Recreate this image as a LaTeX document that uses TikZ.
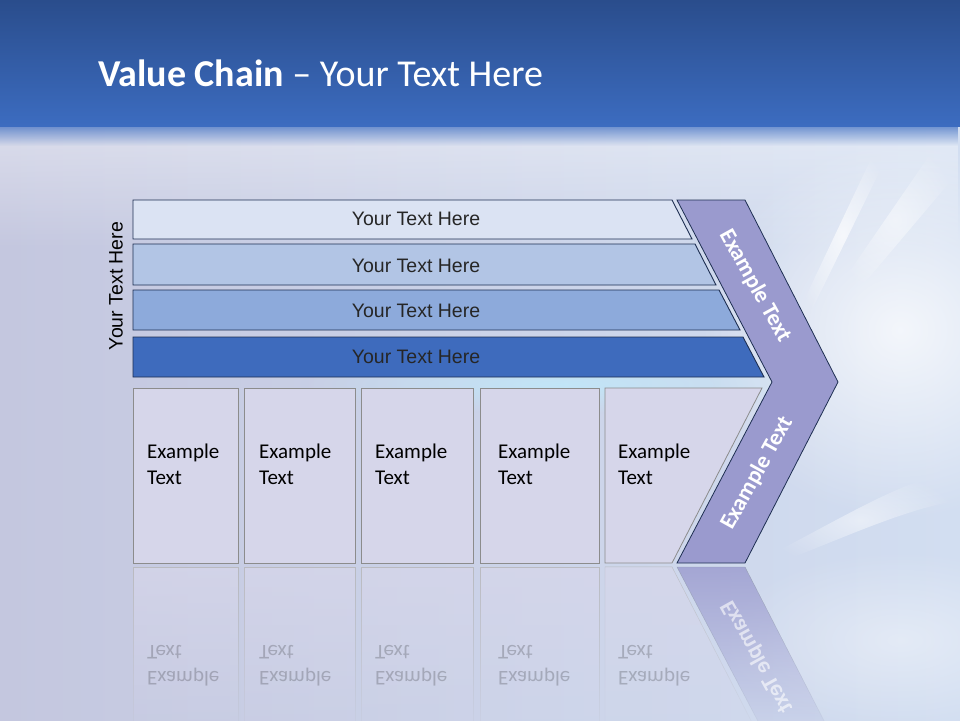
\documentclass[tikz,border=0pt]{standalone}
\usepackage{fontspec}
\setmainfont{Carlito}
\newfontfamily\barfont{Liberation Sans}
\usetikzlibrary{fadings}

\definecolor{bandtop}{HTML}{2A4D8C}
\definecolor{bandbot}{HTML}{3C6CC0}
\definecolor{bgleft}{HTML}{C4C7DF}
\definecolor{bgright}{HTML}{D2DEF1}
\definecolor{barA}{HTML}{DBE3F3}
\definecolor{barB}{HTML}{B2C5E5}
\definecolor{barC}{HTML}{8DAADB}
\definecolor{barD}{HTML}{3E6BBD}
\definecolor{chev}{HTML}{9A9ACE}
\definecolor{cellfill}{HTML}{D6D6EA}
\definecolor{edge}{HTML}{1E2F52}

\tikzfading[name=glow, inner color=transparent!0, outer color=transparent!100]

\tikzset{
  barshape/.style={draw=edge, line width=0.9pt},
  bartext/.style={font=\barfont\fontsize{19.5}{22}\selectfont, text=black!85},
  cell/.style={draw=black!45, fill=cellfill, line width=0.8pt},
  celltext/.style={font=\fontsize{21}{26}\selectfont, align=left, anchor=north west, inner sep=0pt},
  armtext/.style={font=\bfseries\fontsize{23}{26}\selectfont, text=white},
  ray/.style={white, line cap=round, path fading=glow},
}

\begin{document}
\begin{tikzpicture}[x=1pt,y=-1pt]
\useasboundingbox (0,0) rectangle (960,720);

% background
\shade [left color=bgleft, right color=bgright] (0,0) rectangle (960,720);
\fill [white, opacity=0.4, path fading=south] (0,126) rectangle (960,250);
\fill [white, opacity=0.75, path fading=glow] (900,330) ellipse (200 and 190);
\fill [white, opacity=0.4, path fading=glow] (900,640) ellipse (180 and 90);
\fill [cyan!25, opacity=0.8, path fading=glow] (560,384) ellipse (260 and 30);
\fill [ray, opacity=0.7] (790,330) -- (880,140) -- (895,140) -- (802,330) -- cycle;
\fill [ray, opacity=0.5] (830,300) -- (940,140) -- (960,140) -- (960,170) -- (850,300) -- cycle;
\fill [ray, opacity=0.5] (760,560) .. controls (840,520) and (900,480) .. (960,470) -- (960,500) .. controls (900,510) and (840,540) .. (760,570) -- cycle;
\shade [top color=bandtop, bottom color=bandbot] (0,0) rectangle (960,126);
\fill [bandbot, opacity=0.7, path fading=south] (0,126) rectangle (960,146);

\node (title) [anchor=base west, inner sep=0pt, text=white, font=\fontsize{38}{44}\selectfont] at (98,86) {\textbf{Value Chain} -- Your Text Here};

% bars
\draw [barshape, fill=barA] (133,200) -- (672,200) -- (692,239) -- (133,239) -- cycle;
\draw [barshape, fill=barB] (133,244) -- (695,244) -- (716,285) -- (133,285) -- cycle;
\draw [barshape, fill=barC] (133,290) -- (719,290) -- (740,330) -- (133,330) -- cycle;
\draw [barshape, fill=barD] (133,337) -- (743,337) -- (764,377) -- (133,377) -- cycle;
\node (barone) [bartext] at (416,219) {Your Text Here};
\node (bartwo) [bartext] at (416,266) {Your Text Here};
\node (barthree) [bartext] at (416,311) {Your Text Here};
\node (barfour) [bartext] at (416,357) {Your Text Here};
\node (side) [bartext, text=black, rotate=90] at (116,286) {Your Text Here};

% chevron
\draw [draw=edge, line width=0.8pt, fill=chev] (677,200) -- (745,200) -- (838,382) -- (745,563) -- (677,563) -- (772,382) -- cycle;
\node (armup) [armtext, rotate=-61] at (755,286) {Example Text};
\node (armdown) [armtext, rotate=61] at (757,473) {Example Text};

% cells
\draw [cell] (133,388) rectangle (238,563);
\draw [cell] (244,388) rectangle (355,563);
\draw [cell] (361,388) rectangle (473,563);
\draw [cell] (480,388) rectangle (599,563);
\draw [cell] (605,388) -- (762,388) -- (672,563) -- (605,563) -- cycle;
\node (cellone) [celltext] at (147,444) {Example\\Text};
\node (celltwo) [celltext] at (259,444) {Example\\Text};
\node (cellthree) [celltext] at (375,444) {Example\\Text};
\node (cellfour) [celltext] at (498,444) {Example\\Text};
\node (cellfive) [celltext] at (618,444) {Example\\Text};

% reflection
\fill [cellfill, draw=black!30, opacity=0.75, path fading=south] (133,567) rectangle (238,742);
\fill [cellfill, draw=black!30, opacity=0.75, path fading=south] (244,567) rectangle (355,742);
\fill [cellfill, draw=black!30, opacity=0.75, path fading=south] (361,567) rectangle (473,742);
\fill [cellfill, draw=black!30, opacity=0.75, path fading=south] (480,567) rectangle (599,742);
\fill [cellfill, draw=black!30, opacity=0.75, path fading=south] (605,567) -- (672,567) -- (762,742) -- (605,742) -- cycle;
\fill [chev, draw=edge!50, opacity=0.8, path fading=south] (677,567) -- (745,567) -- (838,748) -- (772,748) -- cycle;
\begin{scope}[shift={(0pt,-1130pt)}, yscale=-1, transform shape]
\node (mirrorone) [celltext, opacity=0.2] at (147,444) {Example\\Text};
\node (mirrortwo) [celltext, opacity=0.2] at (259,444) {Example\\Text};
\node (mirrorthree) [celltext, opacity=0.2] at (375,444) {Example\\Text};
\node (mirrorfour) [celltext, opacity=0.2] at (498,444) {Example\\Text};
\node (mirrorfive) [celltext, opacity=0.2] at (618,444) {Example\\Text};
\node (mirrorarm) [armtext, opacity=0.6, rotate=61] at (757,473) {Example Text};
\end{scope}

\end{tikzpicture}
\end{document}
